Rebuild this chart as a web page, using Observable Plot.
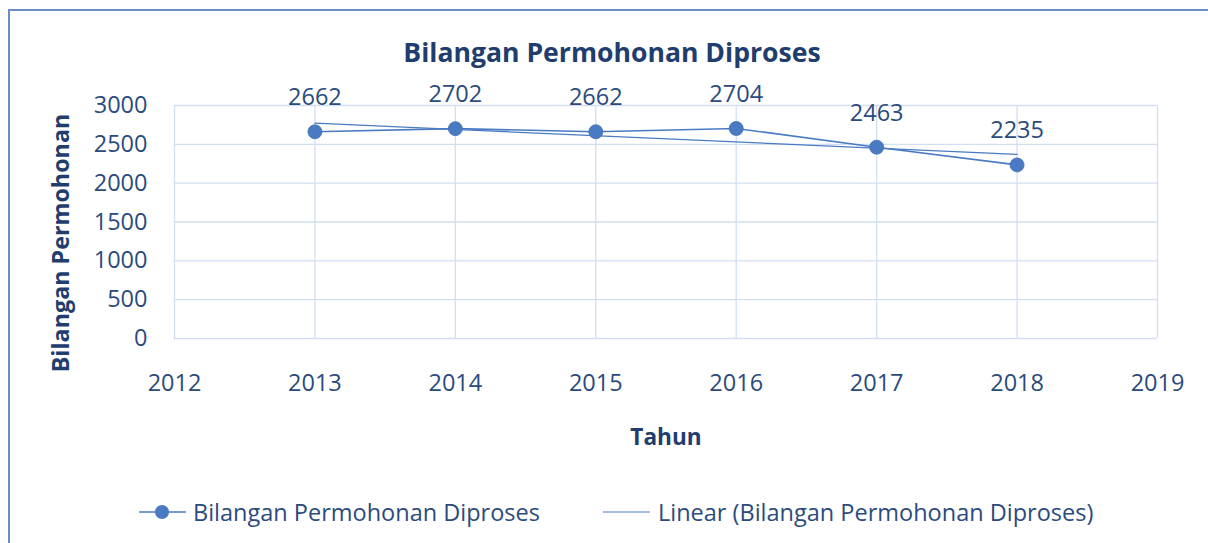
<!DOCTYPE html>
<html>
<head>
<meta charset="utf-8">
<script src="https://cdn.jsdelivr.net/npm/d3@7"></script>
<script src="https://cdn.jsdelivr.net/npm/@observablehq/plot@0.6"></script>
<style>
  html, body { margin: 0; padding: 0; background: #fff; overflow: hidden; }
  body { width: 1208px; height: 543px; position: relative; font-family: "Open Sans", sans-serif; }
  #frame { position: absolute; left: 8px; top: 9px; width: 1230px; height: 580px; border: 2px solid #6a8fc8; box-sizing: border-box; }
  #title { position: absolute; left: 0; width: 1224px; top: 34px; line-height: 36px; text-align: center; font-weight: bold; font-size: 26.6px; color: #1f3d6d; }
  #chart { position: absolute; left: 0; top: 80px; }
  #legend { position: absolute; left: 0; top: 494px; width: 1208px; height: 36px; }
  .lg-text { position: absolute; top: 0; font-size: 23.5px; color: #2b4b7c; line-height: 36px; white-space: nowrap; }
</style>
</head>
<body>
<div id="frame"></div>
<div id="title"></div>
<div id="chart"></div>
<div id="legend"></div>
<script>
const titleText = "Bilangan Permohonan Diproses";
const yAxisTitle = "Bilangan Permohonan";
const xAxisTitle = "Tahun";
const seriesName = "Bilangan Permohonan Diproses";
const trendName = "Linear (Bilangan Permohonan Diproses)";
const years = [2013, 2014, 2015, 2016, 2017, 2018];
const values = [2662, 2702, 2662, 2704, 2463, 2235];
const xTicks = [2012, 2013, 2014, 2015, 2016, 2017, 2018, 2019];
const yTicks = [0, 500, 1000, 1500, 2000, 2500, 3000];

const data = years.map((y, i) => ({year: y, value: values[i]}));
const lineColor = "#4a7bc2";
const gridColor = "#d3dff1";
const textColor = "#2b4b7c";

document.getElementById("title").textContent = titleText;

const chart = Plot.plot({
  width: 1208,
  height: 380,
  marginTop: 25,
  marginBottom: 122,
  marginLeft: 174,
  marginRight: 51,
  style: {fontFamily: "'Open Sans', sans-serif", fontSize: "23.5px", color: textColor, background: "transparent", overflow: "visible"},
  x: {domain: [2012, 2019], label: null},
  y: {domain: [0, 3000], label: null},
  marks: [
    Plot.ruleY(yTicks, {stroke: gridColor, strokeWidth: 1.3}),
    Plot.ruleX(xTicks, {stroke: gridColor, strokeWidth: 1.3}),
    Plot.axisX({ticks: xTicks, tickFormat: d => String(d), tickSize: 0, tickPadding: 36, fill: textColor}),
    Plot.axisY({ticks: yTicks, tickFormat: d => String(d), tickSize: 0, tickPadding: 27, fill: textColor}),
    Plot.linearRegressionY(data, {x: "year", y: "value", stroke: lineColor, strokeWidth: 1.2, ci: 0}),
    Plot.line(data, {x: "year", y: "value", stroke: lineColor, strokeWidth: 1.6}),
    Plot.dot(data, {x: "year", y: "value", r: 7, fill: lineColor, stroke: "#3f6fb5", strokeWidth: 0.8}),
    Plot.text(data, {x: "year", y: "value", text: d => String(d.value), dy: -34, fill: textColor, fontSize: 23.5}),
    Plot.text([yAxisTitle], {frameAnchor: "left", textAnchor: "middle", lineAnchor: "middle", rotate: -90, dx: -113, dy: 21, fontWeight: "bold", fontSize: 23.3, fill: "#1f3d6d"}),
    Plot.text([xAxisTitle], {frameAnchor: "bottom", textAnchor: "middle", lineAnchor: "middle", dy: 99, fontWeight: "bold", fontSize: 22.6, fill: "#1f3d6d"})
  ]
});
document.getElementById("chart").appendChild(chart);

// legend
const legend = d3.select("#legend");
const lsvg = legend.append("svg").attr("width", 1208).attr("height", 36).style("position", "absolute").style("left", 0).style("top", 0);
lsvg.append("line").attr("x1", 139).attr("x2", 186).attr("y1", 18).attr("y2", 18).attr("stroke", lineColor).attr("stroke-width", 1.6);
lsvg.append("circle").attr("cx", 162).attr("cy", 18).attr("r", 7).attr("fill", lineColor);
lsvg.append("line").attr("x1", 603).attr("x2", 650).attr("y1", 18).attr("y2", 18).attr("stroke", lineColor).attr("stroke-width", 1.2);
legend.append("div").attr("class", "lg-text").style("left", "193px").text(seriesName);
legend.append("div").attr("class", "lg-text").style("left", "658px").text(trendName);
</script>
</body>
</html>
